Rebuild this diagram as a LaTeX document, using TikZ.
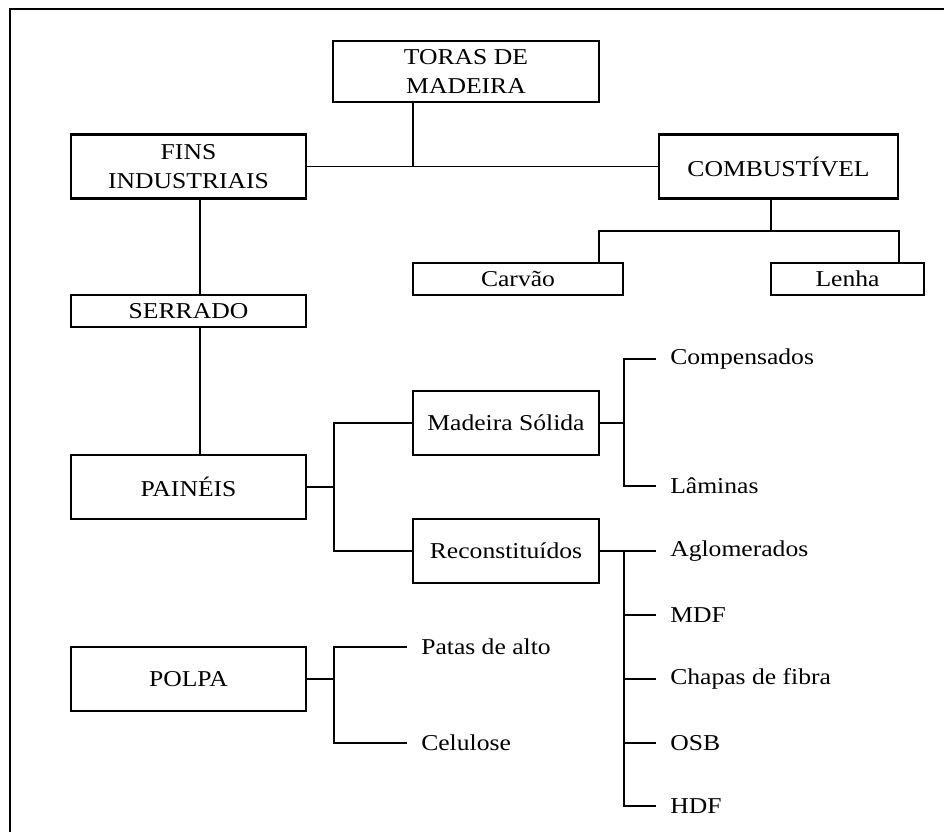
\documentclass[tikz,border=0pt]{standalone}
\usepackage{fontspec}
\setmainfont{Liberation Serif}[FakeStretch=1.13]

\begin{document}
\begin{tikzpicture}[x=0.75pt,y=-0.75pt,
		caixa/.style={draw, line width=1.6pt, align=center, inner sep=0pt, font=\fontsize{17}{22}\selectfont},
		folha/.style={anchor=west, inner xsep=10.5pt, inner ysep=0pt, font=\fontsize{17}{22}\selectfont},
		liga/.style={line width=1.4pt},
		fina/.style={line width=1pt}]
			%%%%% START %%%%%
			
			\useasboundingbox (0,0) rectangle (944,832);
			\draw[line width=1.6pt] (10,832) -- (10,9) -- (944,9);
			
			\node[caixa, minimum width=199.5pt, minimum height=45.75pt] (toras) at (466,71.5) {TORAS DE\\MADEIRA};
			\node[caixa, minimum width=176.25pt, minimum height=48pt] (fins) at (188.5,166.5) {FINS\\INDUSTRIAIS};
			\node[caixa, minimum width=179.25pt, minimum height=48pt] (comb) at (778.5,166.5) {COMBUSTÍVEL};
			\node[caixa, minimum width=157.5pt, minimum height=24pt] (carvao) at (518,279) {Carvão};
			\node[caixa, minimum width=114.75pt, minimum height=24pt] (lenha) at (847.5,279) {Lenha};
			\node[caixa, minimum width=176.25pt, minimum height=24pt] (serrado) at (188.5,311) {SERRADO};
			\node[caixa, minimum width=176.25pt, minimum height=48pt] (paineis) at (188.5,487) {PAINÉIS};
			\node[caixa, minimum width=139.5pt, minimum height=48pt] (madeira) at (506,423) {Madeira Sólida};
			\node[caixa, minimum width=139.5pt, minimum height=48pt] (recon) at (506,551) {Reconstituídos};
			\node[caixa, minimum width=176.25pt, minimum height=48pt] (polpa) at (188.5,679) {POLPA};
			
			\node[folha] (compensados) at (656,359) {Compensados};
			\node[folha] (laminas) at (656,486) {Lâminas};
			\node[folha] (aglomerados) at (656,551) {Aglomerados};
			\node[folha] (mdf) at (656,615) {MDF};
			\node[folha] (chapas) at (656,679) {Chapas de fibra};
			\node[folha] (osb) at (656,743) {OSB};
			\node[folha] (hdf) at (656,806) {HDF};
			\node[folha] (patas) at (407,647) {Patas de alto};
			\node[folha] (celulose) at (407,743) {Celulose};
			
			\coordinate (jt) at (413,166);
			\coordinate (jc) at (771,231);
			\coordinate (jc1) at (599,231);
			\coordinate (jc2) at (899,231);
			\coordinate (jf) at (200,166);
			\coordinate (jp) at (334,487);
			\coordinate (jm) at (624,423);
			\coordinate (jr) at (624,551);
			\coordinate (jq) at (334,679);
			
			\draw[liga] (jt |- toras.south) -- (jt);
			\draw[liga] (fins.east) -- (comb.west);
			
			\draw[liga] (jc |- comb.south) -- (jc);
			\draw[liga] (jc1 |- carvao.north) -- (jc1) -- (jc2) -- (jc2 |- lenha.north);
			
			\draw[fina] (jf |- fins.south) -- (jf |- serrado.north);
			\draw[fina] (jf |- serrado.south) -- (jf |- paineis.north);
			
			\draw[liga] (paineis.east) -- (jp);
			\draw[liga] (madeira.west) -| (jp) |- (recon.west);
			
			\draw[liga] (madeira.east) -- (jm);
			\draw[liga] (compensados.west) -| (jm) |- (laminas.west);
			
			\draw[liga] (recon.east) -- (aglomerados.west);
			\draw[liga] (jr) |- (hdf.west);
			\foreach \n in {mdf,chapas,osb}
				\draw[liga] (jr |- \n.west) -- (\n.west);
			
			\draw[liga] (polpa.east) -- (jq);
			\draw[liga] (patas.west) -| (jq) |- (celulose.west);
			
			%%%%% END %%%%%
		\end{tikzpicture}
\end{document}
